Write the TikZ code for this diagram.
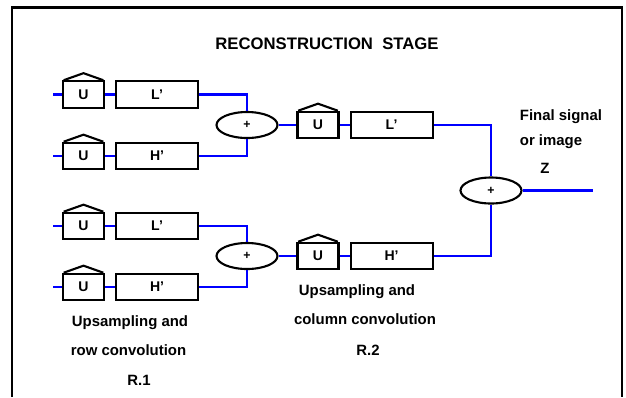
\documentclass[tikz,border=0pt]{standalone}
\usepackage{fontspec}
\setmainfont{Liberation Sans}
\usetikzlibrary{positioning,shapes.geometric}

\begin{document}
\begin{tikzpicture}[
    x=0.02cm, y=-0.02cm,
    font=\bfseries\fontsize{8.5}{10}\selectfont,
    ubox/.style={rectangle, draw, line width=1.2pt, minimum width=0.82cm,
                 minimum height=0.53cm, inner sep=0pt, font=\bfseries\fontsize{8}{9}\selectfont},
    filt/.style={ubox, minimum width=1.64cm},
    adder/.style={ellipse, draw, line width=1.2pt, minimum width=1.22cm,
                  minimum height=0.52cm, inner sep=0pt, font=\bfseries\fontsize{7}{8}\selectfont},
    wire/.style={blue, line width=1.2pt},
    lbl/.style={inner sep=0pt}
]
\useasboundingbox (0,0) rectangle (626,397);
\draw[line width=1.7pt] (12,397) -- (12,7) -- (622,7) -- (622,397);

\node[lbl, font=\bfseries\fontsize{9.5}{11}\selectfont] (title) at (327,44) {RECONSTRUCTION\ \ STAGE};

% stage R.1
\node[ubox] (u1) at (83.5,94.5) {U};
\node[filt, right=0.2cm of u1] (l1) {L'};
\node[ubox] (u2) at (83.5,156) {U};
\node[filt, right=0.2cm of u2] (h1) {H'};
\node[adder] (s1) at (247,125) {+};

\node[ubox] (u3) at (83.5,226) {U};
\node[filt, right=0.2cm of u3] (l2) {L'};
\node[ubox] (u4) at (83.5,287) {U};
\node[filt, right=0.2cm of u4] (h2) {H'};
\node[adder] (s2) at (247,256) {+};

% stage R.2
\node[ubox] (u5) at (318,125) {U};
\node[filt, right=0.2cm of u5] (l3) {L'};
\node[ubox] (u6) at (318,256) {U};
\node[filt, right=0.2cm of u6] (h3) {H'};
\node[adder] (s3) at (491,190.5) {+};

% roofs on the upsampling boxes
\foreach \n in {u1,u2,u3,u4,u5,u6}
  \draw[line width=1.2pt] ([xshift=1pt]\n.north west) -- ([yshift=4pt]\n.north)
        -- ([xshift=-1pt]\n.north east);

% free ends
\coordinate (in1) at (53,94.5);
\coordinate (in2) at (53,156);
\coordinate (in3) at (53,226);
\coordinate (in4) at (53,287);
\coordinate (out) at (593,190.5);

% wires
\draw[wire] (in1) -- (u1.west);
\draw[wire] (in2) -- (u2.west);
\draw[wire] (in3) -- (u3.west);
\draw[wire] (in4) -- (u4.west);
\foreach \a/\b in {u1/l1,u2/h1,u3/l2,u4/h2,u5/l3,u6/h3}
  \draw[wire] (\a.east) -- (\b.west);
\draw[wire] (l1.east) -| (s1.north);
\draw[wire] (h1.east) -| (s1.south);
\draw[wire] (l2.east) -| (s2.north);
\draw[wire] (h2.east) -| (s2.south);
\draw[wire] (s1.east) -- (u5.west);
\draw[wire] (s2.east) -- (u6.west);
\draw[wire] (l3.east) -| (s3.north);
\draw[wire] (h3.east) -| (s3.south);
\draw[wire] (s3.east) -- (out);

% captions
\node[lbl] (cap1a) at (130,323) {Upsampling and};
\node[lbl] (cap1b) at (128.5,350) {row convolution};
\node[lbl] (cap1c) at (139,380) {R.1};
\node[lbl] (cap2a) at (357,292) {Upsampling and};
\node[lbl] (cap2b) at (365,319) {column convolution};
\node[lbl] (cap2c) at (368,350) {R.2};
\node[lbl] (fin1) at (561,117) {Final signal};
\node[lbl] (fin2) at (551,142) {or image};
\node[lbl] (fin3) at (545,168) {Z};
\end{tikzpicture}
\end{document}
